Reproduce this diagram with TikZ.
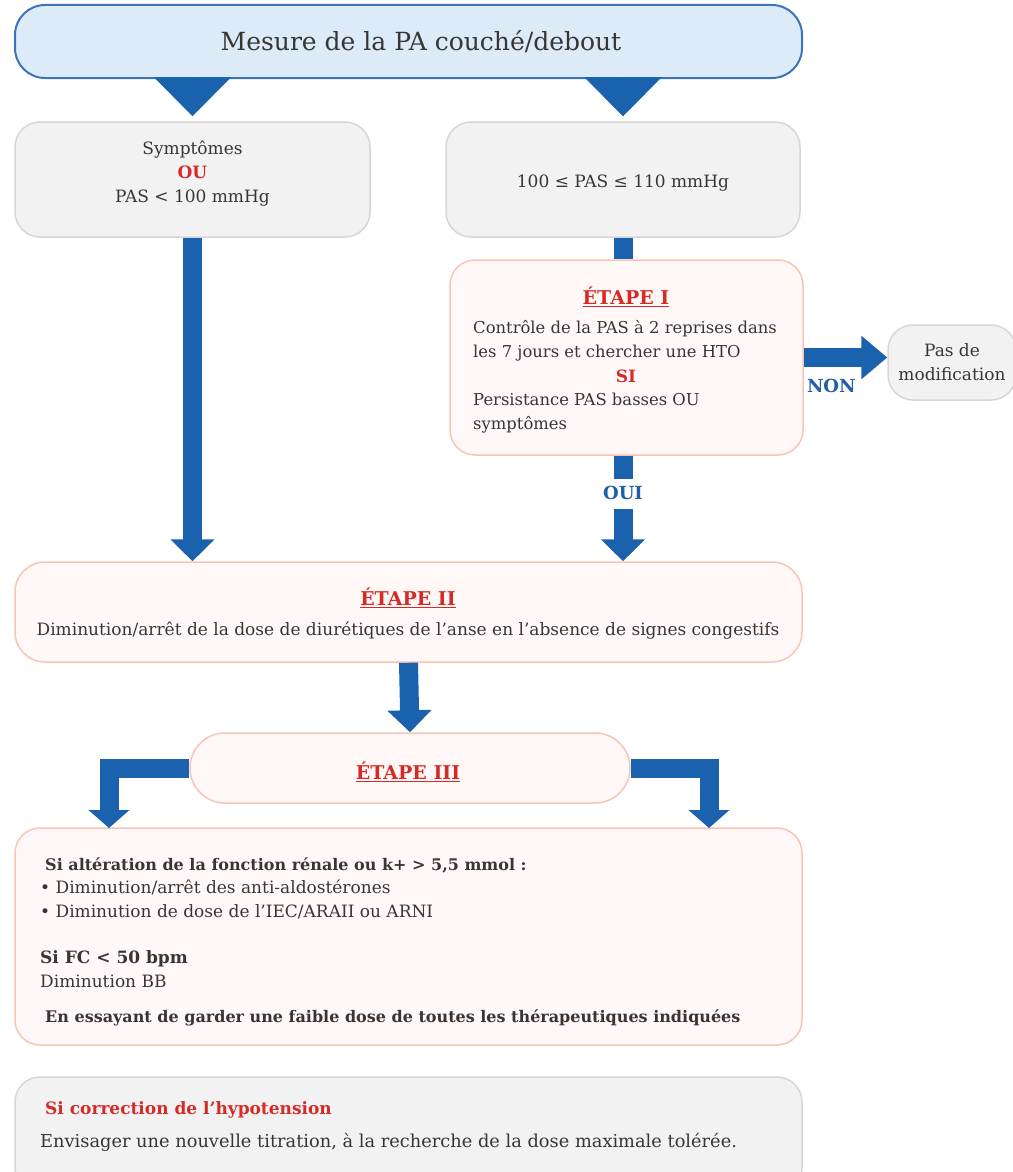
\documentclass[tikz,border=0pt]{standalone}
\usepackage{fontspec}
\setmainfont{DejaVu Serif}
\usetikzlibrary{arrows.meta}

\definecolor{fleche}{HTML}{1A62AE}
\definecolor{bleufond}{HTML}{DCEBF7}
\definecolor{bleubord}{HTML}{3C74BC}
\definecolor{grisfond}{HTML}{F2F2F2}
\definecolor{grisbord}{HTML}{D6D6D6}
\definecolor{rosefond}{HTML}{FFF8F6}
\definecolor{rosebord}{HTML}{F8C4B6}
\definecolor{rouge}{HTML}{D52B27}
\definecolor{texte}{HTML}{363636}
\definecolor{bleutexte}{HTML}{1F5FA8}

\newcommand\corps{\fontsize{17}{24}\selectfont}
\newcommand\etape[1]{\textcolor{rouge}{\fontsize{19}{24}\selectfont\bfseries\underline{#1}}}

\begin{document}
\begin{tikzpicture}[x=1pt, y=-1pt,
    bleu/.style={draw=bleubord, fill=bleufond, line width=2pt, rounded corners=30pt},
    gris/.style={draw=grisbord, fill=grisfond, line width=1.5pt, rounded corners=25pt},
    rose/.style={draw=rosebord, fill=rosefond, line width=1.5pt, rounded corners=25pt},
    txt/.style={text=texte, font=\corps, inner sep=0pt},
    bar/.style={draw=fleche, line width=19pt},
    barfleche/.style={bar, -{Triangle[width=43pt,length=22pt]}},
    coin/.style={draw=fleche, line width=0.5pt, -{Triangle[width=77pt,length=39pt]}, shorten >=5pt},
    oui/.style={text=bleutexte, font=\fontsize{18}{24}\selectfont\bfseries}]
    \useasboundingbox (0,0) rectangle (1012,1172);

    % cadres
    \node[bleu, minimum width=787pt, minimum height=73pt] (mesure) at (408.5,41.5) {};
    \node[gris, minimum width=355pt, minimum height=115pt] (symA) at (192.5,179.5) {};
    \node[gris, minimum width=354pt, minimum height=115pt] (pasB) at (623,179.5) {};
    \node[rose, minimum width=353pt, minimum height=195pt] (etapeI) at (626.5,357.5) {};
    \node[gris, minimum width=128pt, minimum height=75pt, txt, align=center] (pasmod) at (952,362.5) {Pas de\\modification};
    \node[rose, minimum width=787pt, minimum height=100pt, rounded corners=30pt] (etapeII) at (408.5,612) {};
    \node[rose, minimum width=440pt, minimum height=70pt, rounded corners=35pt] (etapeIII) at (410,768) {};
    \node[rose, minimum width=787pt, minimum height=217pt] (detail) at (408.5,936.5) {};
    \node[gris, minimum width=787pt, minimum height=116pt] (correction) at (408.5,1135) {};

    % textes
    \node[txt, font=\fontsize{25}{30}\selectfont] (mesure-t) at (421,42) {Mesure de la PA couché/debout};
    \node[txt, align=center] (symA-t) at (192.5,173.5) {Symptômes\\\textcolor{rouge}{\bfseries OU}\\PAS < 100 mmHg};
    \node[txt] (pasB-t) at (623,183) {100 ≤ PAS ≤ 110 mmHg};
    \node[txt] (etapeI-titre) at (626,297) {\etape{ÉTAPE I}};
    \node[txt, anchor=west, align=left, font=\fontsize{16.4}{24}\selectfont] (etapeI-a) at (473,341) {Contrôle de la PAS à 2 reprises dans\\les 7 jours et chercher une HTO};
    \node[txt, text=rouge, font=\corps\bfseries] (etapeI-si) at (626,376) {SI};
    \node[txt, anchor=west, align=left, font=\fontsize{16.4}{24}\selectfont] (etapeI-b) at (473,413) {Persistance PAS basses OU\\symptômes};
    \node[txt] (etapeII-titre) at (408,598) {\etape{ÉTAPE II}};
    \node[txt] (etapeII-t) at (408,631) {Diminution/arrêt de la dose de diurétiques de l’anse en l’absence de signes congestifs};
    \node[txt] (etapeIII-titre) at (408,772) {\etape{ÉTAPE III}};
    \node[txt, anchor=west, font=\fontsize{16}{24}\selectfont\bfseries] (detail-a) at (45,865) {Si altération de la fonction rénale ou k+ > 5,5 mmol :};
    \node[txt, anchor=west, align=left] (detail-b) at (40,899) {• Diminution/arrêt des anti-aldostérones\\• Diminution de dose de l’IEC/ARAII ou ARNI};
    \node[txt, anchor=west, align=left] (detail-c) at (40,969) {\textbf{Si FC < 50 bpm}\\Diminution BB};
    \node[txt, anchor=west, font=\fontsize{16}{24}\selectfont\bfseries] (detail-d) at (45,1018) {En essayant de garder une faible dose de toutes les thérapeutiques indiquées};
    \node[txt, anchor=west, text=rouge, font=\corps\bfseries] (correction-a) at (45,1110) {Si correction de l’hypotension};
    \node[txt, anchor=west, font=\fontsize{17.8}{24}\selectfont] (correction-b) at (40,1142) {Envisager une nouvelle titration, à la recherche de la dose maximale tolérée.};

    % fleches
    \draw[coin] (mesure.south -| symA.north) -- (symA.north);
    \draw[coin] (mesure.south -| pasB.north) -- (pasB.north);
    \draw[barfleche] (symA.south) -- (symA.south |- etapeII.north);
    \draw[bar] (pasB.south) -- (pasB.south |- etapeI.north);
    \draw[barfleche] (pasB.south |- etapeI.south) -- (pasB.south |- etapeII.north)
        node[pos=0.36, oui, fill=white, inner xsep=2pt, inner ysep=9pt, text height=12pt, text depth=0pt] (oui) {OUI};
    \draw[bar, -{Triangle[width=42pt,length=26pt]}] (etapeI.east) -- (etapeI.east -| pasmod.west)
        node[pos=0.33, below=9pt, oui] (non) {NON};
    \draw[barfleche] (etapeII.south) -- (etapeIII.north);

    % sorties de l'etape III
    \coordinate (gauche) at (109,828);
    \coordinate (droite) at (709,828);
    \draw[bar, -{Triangle[width=40pt,length=18pt]}] (etapeIII.west) -| (gauche);
    \draw[bar, -{Triangle[width=40pt,length=18pt]}] (etapeIII.east) -| (droite);
\end{tikzpicture}
\end{document}
